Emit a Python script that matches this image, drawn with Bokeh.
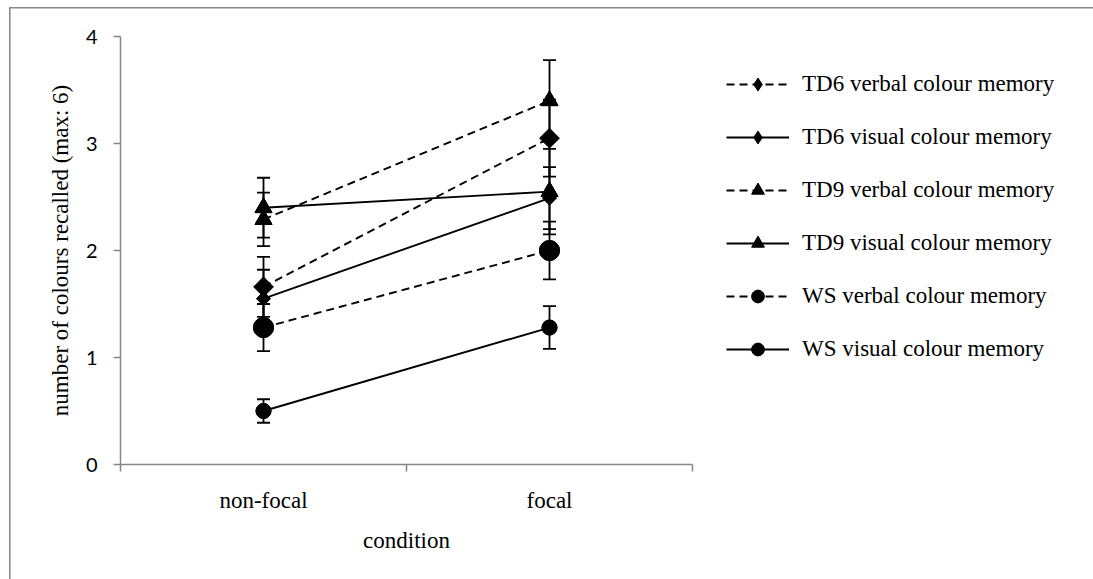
from bokeh.plotting import figure
from bokeh.models import (ColumnDataSource, FixedTicker, Whisker, TeeHead,
                          Legend, LegendItem)
from bokeh.embed import file_html
from bokeh.resources import INLINE
import math

# ---------------- data ----------------
conditions = ["non-focal", "focal"]
series_names = ["TD6 verbal colour memory", "TD6 visual colour memory",
                "TD9 verbal colour memory", "TD9 visual colour memory",
                "WS verbal colour memory", "WS visual colour memory"]
td6_verbal = [1.66, 3.05]
td6_visual = [1.55, 2.49]
td9_verbal = [2.29, 3.40]
td9_visual = [2.40, 2.55]
ws_verbal = [1.28, 2.00]
ws_visual = [0.50, 1.28]
td6_verbal_err = [0.28, 0.36]
td6_visual_err = [0.27, 0.29]
td9_verbal_err = [0.25, 0.38]
td9_visual_err = [0.28, 0.40]
ws_verbal_err = [0.22, 0.27]
ws_visual_err = [0.11, 0.20]
y_ticks = [0, 1, 2, 3, 4]

values = [td6_verbal, td6_visual, td9_verbal, td9_visual, ws_verbal, ws_visual]
errors = [td6_verbal_err, td6_visual_err, td9_verbal_err, td9_visual_err,
          ws_verbal_err, ws_visual_err]
markers = ["square", "square", "triangle", "triangle", "circle", "circle"]
legend_markers = ["diamond", "diamond", "triangle", "triangle", "circle", "circle"]
angles = [math.pi / 4, math.pi / 4, 0, 0, 0, 0]
sizes = [14, 10, 17, 17, 20, 15]
hidden_sizes = [18, 13, 17, 17, 20, 15]
dashes = ["8 5", "solid", "8 5", "solid", "8 5", "solid"]

xs = [i + 0.5 for i in range(len(conditions))]

SERIF = "Liberation Serif"
AXIS_COL = "#868686"

p = figure(frame_width=572, frame_height=428, output_backend="svg",
           toolbar_location=None,
           x_range=(0, len(conditions)), y_range=(0, 4),
           min_border_left=111, min_border_right=395,
           min_border_top=29, min_border_bottom=115)
p.margin = (7, 0, 0, 9)
p.styles = {"box-shadow": "inset 1.5px 1.5px 0 0 #868686"}
p.grid.visible = False
p.outline_line_color = None
p.background_fill_color = "white"
p.border_fill_color = None

# x axis: ticks at boundaries (minor), labels at centres (major)
xa = p.xaxis[0]
xa.ticker = FixedTicker(ticks=xs, minor_ticks=list(range(len(conditions) + 1)))
xa.major_label_overrides = {x: c for x, c in zip(xs, conditions)}
xa.major_tick_out = 0
xa.major_tick_in = 0
xa.minor_tick_out = 7
xa.minor_tick_in = 0
xa.minor_tick_line_color = AXIS_COL
xa.minor_tick_line_width = 1.5
xa.axis_line_color = AXIS_COL
xa.axis_line_width = 1.5
xa.major_label_text_font = SERIF
xa.major_label_text_font_size = "23px"
xa.major_label_text_color = "black"
xa.major_label_standoff = 16
xa.axis_label = "condition"
xa.axis_label_text_font = SERIF
xa.axis_label_text_font_size = "23px"
xa.axis_label_text_font_style = "normal"
xa.axis_label_text_color = "black"
xa.axis_label_standoff = 12

ya = p.yaxis[0]
ya.ticker = FixedTicker(ticks=y_ticks, minor_ticks=[])
ya.major_tick_out = 7
ya.major_tick_in = 0
ya.major_tick_line_color = AXIS_COL
ya.major_tick_line_width = 1.5
ya.axis_line_color = AXIS_COL
ya.axis_line_width = 1.5
ya.major_label_text_font = "Lato"
ya.major_label_text_font_size = "20px"
ya.major_label_text_color = "black"
ya.major_label_standoff = 16
ya.axis_label = "number of colours recalled (max: 6)"
ya.axis_label_text_font = SERIF
ya.axis_label_text_font_size = "23px"
ya.axis_label_text_font_style = "normal"
ya.axis_label_text_color = "black"
ya.axis_label_standoff = 10

line_renderers = []
for name, vals, dash in zip(series_names, values, dashes):
    src = ColumnDataSource(dict(x=xs, y=vals))
    lr = p.line("x", "y", source=src, line_color="black", line_width=1.9,
                line_dash=dash)
    line_renderers.append(lr)

for vals, errs in zip(values, errors):
    src = ColumnDataSource(dict(x=xs,
                                upper=[v + e for v, e in zip(vals, errs)],
                                lower=[v - e for v, e in zip(vals, errs)]))
    w = Whisker(source=src, base="x", upper="upper", lower="lower",
                line_color="black", line_width=1.8,
                upper_head=TeeHead(size=13, line_color="black", line_width=1.8),
                lower_head=TeeHead(size=13, line_color="black", line_width=1.8))
    p.add_layout(w)

items = []
for name, vals, mk, lmk, ang, sz, hsz, lr in zip(series_names, values, markers,
                                                 legend_markers, angles, sizes,
                                                 hidden_sizes, line_renderers):
    src = ColumnDataSource(dict(x=xs, y=vals))
    # legend-shaped marker (covered by the visible marker drawn on top)
    lsr = p.scatter("x", "y", source=src, marker=lmk, size=hsz,
                    fill_color="black", line_color="black")
    p.scatter("x", "y", source=src, marker=mk, size=sz, angle=ang,
              fill_color="black", line_color="black")
    items.append(LegendItem(label=name, renderers=[lr, lsr]))

legend = Legend(items=items, location=(34, 99), orientation="vertical",
                glyph_width=63, glyph_height=32, label_height=32,
                label_standoff=13, spacing=21, padding=10, margin=0,
                label_text_font=SERIF, label_text_font_size="23px",
                label_text_color="black",
                border_line_color=None, background_fill_alpha=0)
p.add_layout(legend, "right")

open("out.html", "w").write(file_html(p, INLINE))
